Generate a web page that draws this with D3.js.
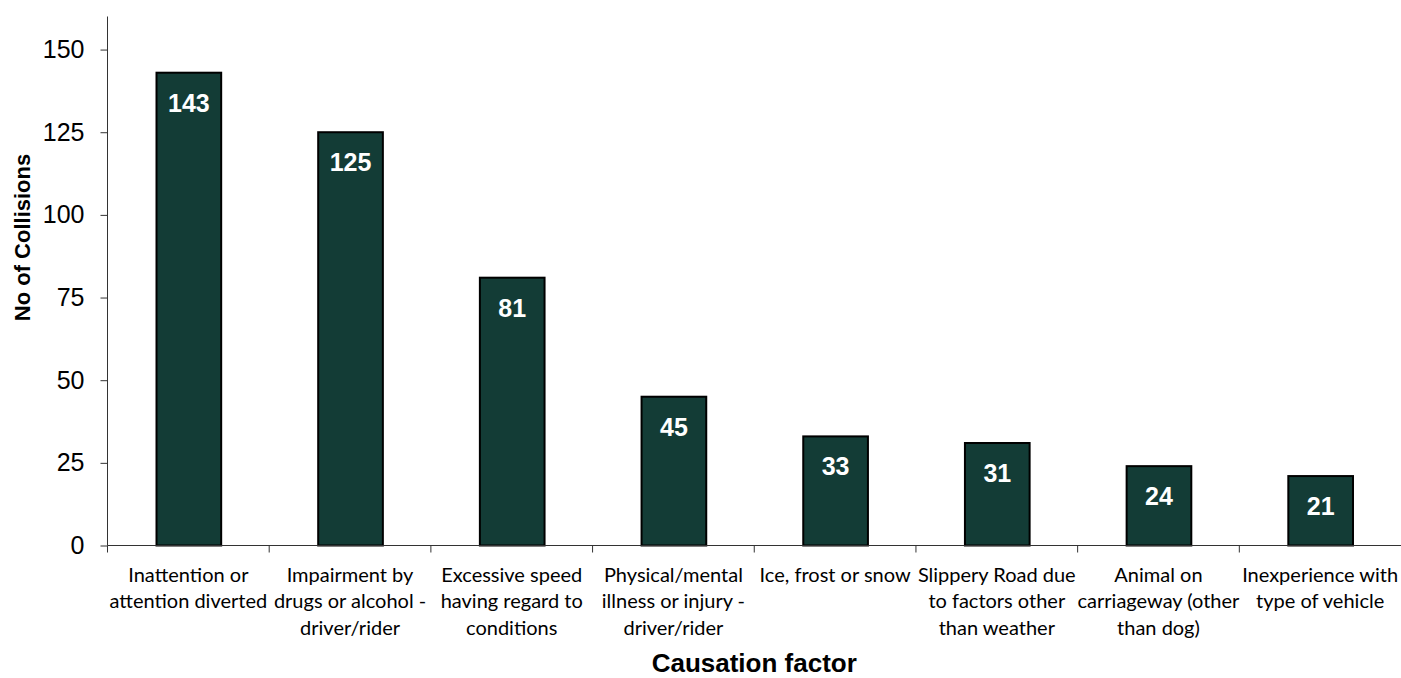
<!DOCTYPE html>
<html>
<head>
<meta charset="utf-8">
<script src="https://cdn.jsdelivr.net/npm/d3@7"></script>
<style>
  html, body { margin: 0; padding: 0; background: #fff; overflow: hidden; }
  svg { display: block; }
</style>
</head>
<body>
<svg id="chart" width="1401" height="678"></svg>
<script>
const categories = [
  "Inattention or|attention diverted",
  "Impairment by|drugs or alcohol -|driver/rider",
  "Excessive speed|having regard to|conditions",
  "Physical/mental|illness or injury -|driver/rider",
  "Ice, frost or snow",
  "Slippery Road due|to factors other|than weather",
  "Animal on|carriageway (other|than dog)",
  "Inexperience with|type of vehicle"
];
const values = [143, 125, 81, 45, 33, 31, 24, 21];
const yTicks = [0, 25, 50, 75, 100, 125, 150];
const yTitle = "No of Collisions";
const xTitle = "Causation factor";

(function () {
const svg = d3.select("#chart");
const mLeft = 107.5, mRight = 1401, mBottom = 545.5, mTop = 16.5;

const x = d3.scaleBand().domain(categories).range([mLeft, mRight]).padding(0);
const y = d3.scaleLinear().domain([0, 160]).range([mBottom, mTop]);

const barW = x.bandwidth() * 0.4;
const data = categories.map((c, i) => ({ c, v: values[i] }));

// bars
svg.append("g").selectAll("rect").data(data).join("rect")
  .attr("x", d => x(d.c) + x.bandwidth() / 2 - barW / 2 + 0.5)
  .attr("y", d => y(d.v))
  .attr("width", barW)
  .attr("height", d => y(0) - y(d.v))
  .attr("fill", "#133c36")
  .attr("stroke", "#000")
  .attr("stroke-width", 2);

// value labels
svg.append("g").selectAll("text").data(data).join("text")
  .attr("x", d => x(d.c) + x.bandwidth() / 2 + 0.5)
  .attr("y", d => y(d.v) + 39)
  .attr("text-anchor", "middle")
  .attr("fill", "#fff")
  .attr("font-family", "Liberation Sans, Arial, sans-serif")
  .attr("font-weight", "bold")
  .attr("font-size", 25)
  .text(d => d.v);

// y axis
const yAxis = svg.append("g").attr("transform", `translate(${mLeft},0)`)
  .call(d3.axisLeft(y).tickValues(yTicks).tickSize(7).tickPadding(16));
yAxis.select(".domain").attr("d", `M0,${mTop}V${mBottom}`).attr("stroke", "#333");
yAxis.selectAll(".tick line").attr("stroke", "#333");
yAxis.selectAll(".tick text")
  .attr("font-family", "Liberation Sans, Arial, sans-serif")
  .attr("font-size", 25)
  .attr("fill", "#000");

// x axis
const xAxis = svg.append("g").attr("transform", `translate(0,${mBottom})`);
xAxis.append("line").attr("x1", mLeft).attr("x2", mRight).attr("y1", 0).attr("y2", 0).attr("stroke", "#333");
xAxis.selectAll("line.tk").data(categories).join("line").attr("class", "tk")
  .attr("x1", d => x(d)).attr("x2", d => x(d)).attr("y1", 0).attr("y2", 7).attr("stroke", "#333");

// category labels
const catG = svg.append("g");
catG.selectAll("text").data(categories).join("text")
  .attr("x", d => x(d) + x.bandwidth() / 2)
  .attr("y", 581.5)
  .attr("text-anchor", "middle")
  .attr("font-family", "Lato, Carlito, Calibri, sans-serif")
  .attr("font-size", 20)
  .attr("fill", "#000")
  .each(function(d) {
    const t = d3.select(this);
    d.split("|").forEach((line, i) => {
      t.append("tspan").attr("x", x(d) + x.bandwidth() / 2).attr("dy", i === 0 ? 0 : 26.7).text(line);
    });
  });

// titles
svg.append("text")
  .attr("x", (mLeft + mRight) / 2)
  .attr("y", 672)
  .attr("text-anchor", "middle")
  .attr("font-family", "Liberation Sans, Arial, sans-serif")
  .attr("font-weight", "bold")
  .attr("font-size", 26)
  .text(xTitle);

svg.append("text")
  .attr("transform", `translate(30,${(153 + 322) / 2}) rotate(-90)`)
  .attr("text-anchor", "middle")
  .attr("font-family", "Liberation Sans, Arial, sans-serif")
  .attr("font-weight", "bold")
  .attr("font-size", 22)
  .text(yTitle);
})();
</script>
</body>
</html>
